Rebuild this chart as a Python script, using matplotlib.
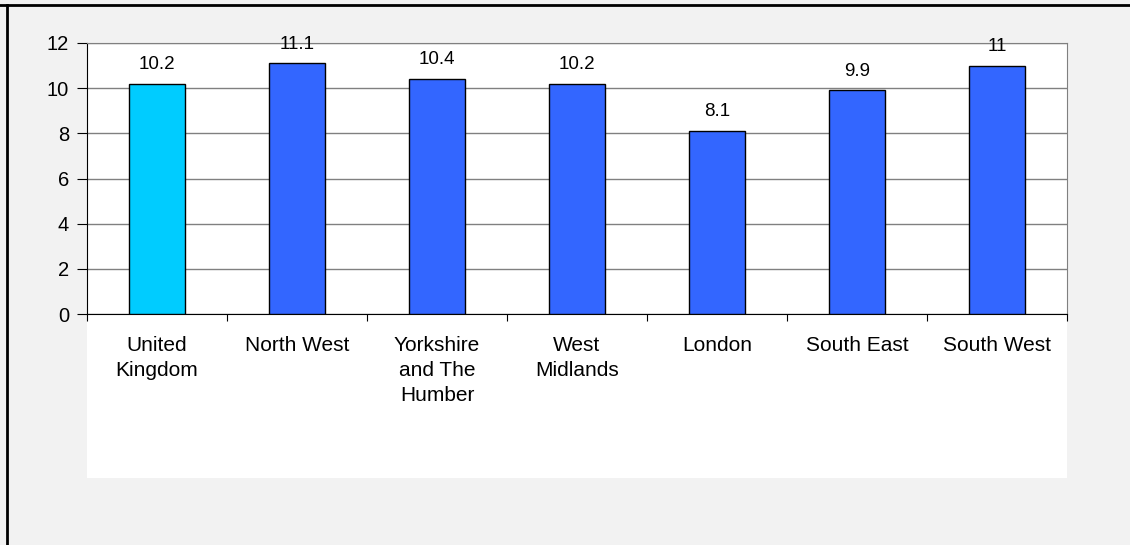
import numpy as np
import matplotlib.pyplot as plt
from matplotlib.patches import Rectangle

plt.rcParams['font.family'] = ['Liberation Sans', 'DejaVu Sans']

# 地区及数值
regions = ['United\nKingdom', 'North West', 'Yorkshire\nand The\nHumber',
           'West\nMidlands', 'London', 'South East', 'South West']
values = [10.2, 11.1, 10.4, 10.2, 8.1, 9.9, 11]
colors = ['#00ccff', '#3366ff', '#3366ff', '#3366ff', '#3366ff', '#3366ff', '#3366ff']
yticks = [0, 2, 4, 6, 8, 10, 12]

fig = plt.figure(figsize=(11.3, 5.45), dpi=100, facecolor='#f2f2f2')

# 白色绘图区 (包括下方的标签区域)
fig.patches.append(Rectangle((87 / 1130, 1 - 478 / 545), 980 / 1130, 435 / 545,
                             transform=fig.transFigure, facecolor='white',
                             edgecolor='none', zorder=-5))
# 外框：只有上边和左边
fig.add_artist(plt.Line2D([0, 1], [1 - 5 / 545] * 2, transform=fig.transFigure,
                          color='black', lw=2))
fig.add_artist(plt.Line2D([6.5 / 1130] * 2, [0, 1 - 5 / 545], transform=fig.transFigure,
                          color='black', lw=2))

ax = fig.add_axes([87 / 1130, 1 - 314 / 545, 980 / 1130, 271 / 545])
ax.set_facecolor('white')

x = np.arange(len(regions))
ax.bar(x, values, width=0.4, color=colors, edgecolor='black', linewidth=1, zorder=3)

for xi, v in zip(x, values):
    ax.annotate('%g' % v, (xi, v), xytext=(0, 10.6), textcoords='offset points',
                ha='center', va='baseline', fontsize=13.5, clip_on=False, zorder=5)

ax.set_xlim(-0.5, len(regions) - 0.5)
ax.set_ylim(0, 12)
ax.set_yticks(yticks)
ax.yaxis.grid(True, color='#808080', lw=1, zorder=1)
ax.set_axisbelow(True)

# x 轴刻度在类别之间，标签在类别中心
ax.set_xticks(np.arange(-0.5, len(regions), 1.0))
ax.set_xticklabels([])
ax.set_xticks(x, minor=True)
ax.set_xticklabels(regions, minor=True, fontsize=15, linespacing=1.38)
ax.tick_params(axis='x', which='major', direction='out', length=5, color='black')
ax.tick_params(axis='x', which='minor', length=0, pad=16)
ax.tick_params(axis='y', direction='out', length=7, labelsize=14.5, pad=6)

for s in ['top', 'right']:
    ax.spines[s].set_color('#808080')
ax.spines['left'].set_color('black')
ax.spines['bottom'].set_color('black')

plt.savefig('out.png', dpi=100, facecolor=fig.get_facecolor())
